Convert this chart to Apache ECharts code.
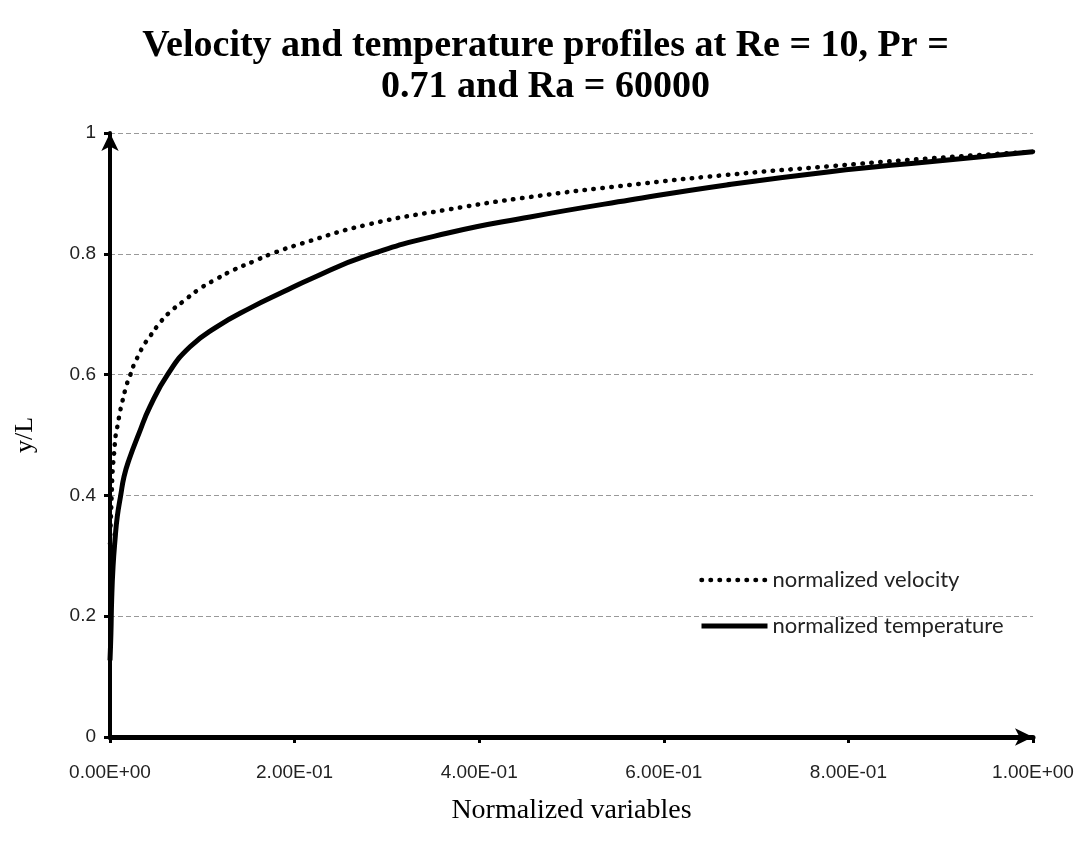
<!DOCTYPE html>
<html>
<head>
<meta charset="utf-8">
<script src="https://cdn.jsdelivr.net/npm/echarts@6/dist/echarts.min.js"></script>
<style>html,body{margin:0;padding:0;background:#fff}#c{width:1091px;height:850px}</style>
</head>
<body>
<div id="c"></div>
<script>
const titleText = 'Velocity and temperature profiles at Re = 10, Pr =\n0.71 and Ra = 60000';
const xAxisName = 'Normalized variables';
const yAxisName = 'y/L';
const seriesNames = ['normalized velocity', 'normalized temperature'];
const xTickLabels = ['0.00E+00', '2.00E-01', '4.00E-01', '6.00E-01', '8.00E-01', '1.00E+00'];

const velocityX = [0, 0.001, 0.0018, 0.0025, 0.0033, 0.0043, 0.0051, 0.0062, 0.0085, 0.0104, 0.0127, 0.0182, 0.0219, 0.0258, 0.0309, 0.0363, 0.0436, 0.0511, 0.0638, 0.08, 0.097, 0.115, 0.135, 0.155, 0.175, 0.2077, 0.278, 0.365, 0.455, 0.563, 0.664, 0.78, 0.888, 1.0];
const velocityY = [0.32, 0.365, 0.40, 0.43, 0.45, 0.467, 0.483, 0.50, 0.518, 0.535, 0.551, 0.584, 0.599, 0.616, 0.632, 0.648, 0.664, 0.680, 0.702, 0.722, 0.742, 0.758, 0.774, 0.787, 0.80, 0.817, 0.848, 0.873, 0.894, 0.914, 0.930, 0.945, 0.958, 0.969];

const temperatureX = [0, 0.001, 0.0018, 0.0033, 0.0054, 0.0079, 0.0116, 0.0152, 0.0206, 0.0315, 0.0433, 0.0632, 0.0867, 0.1156, 0.1517, 0.1878, 0.2167, 0.278, 0.365, 0.455, 0.563, 0.668, 0.78, 0.888, 1.0];
const temperatureY = [0.127, 0.172, 0.227, 0.282, 0.326, 0.365, 0.40, 0.431, 0.459, 0.503, 0.547, 0.602, 0.646, 0.679, 0.710, 0.737, 0.758, 0.797, 0.834, 0.861, 0.889, 0.914, 0.936, 0.9525, 0.969];

const zip = (xs, ys) => xs.map((x, i) => [x, ys[i]]);

const dottedStyle = {color: '#000', width: 4.5, type: [0.5, 8.5], cap: 'round'};
const solidStyle = {color: '#000', width: 5};

const chart = echarts.init(document.getElementById('c'), null, {renderer: 'canvas'});
chart.setOption({
  animation: false,
  backgroundColor: '#fff',
  title: {
    text: titleText,
    left: 'center',
    top: 21,
    textStyle: {fontFamily: 'Liberation Serif', fontWeight: 'bold', fontSize: 38, lineHeight: 41, color: '#000'}
  },
  grid: {left: 110, right: 58, top: 133, bottom: 113, containLabel: false},
  legend: {
    orient: 'vertical',
    left: 694,
    top: 564,
    itemGap: 24,
    itemWidth: 66,
    itemHeight: 14,
    itemStyle: {color: 'transparent', borderWidth: 0, opacity: 0},
    textStyle: {fontFamily: 'Lato', fontSize: 22, color: '#222'},
    data: [
      {name: seriesNames[0], lineStyle: {width: 4.5, type: [0.5, 8.5], cap: 'round', color: '#000'}},
      {name: seriesNames[1], lineStyle: {width: 5, color: '#000'}}
    ]
  },
  xAxis: {
    type: 'value',
    min: 0, max: 1, interval: 0.2,
    name: xAxisName,
    nameLocation: 'middle',
    nameGap: 60,
    nameTextStyle: {fontFamily: 'Liberation Serif', fontSize: 28, color: '#000'},
    axisLine: {show: true, onZero: false, lineStyle: {color: '#000', width: 5}, symbol: ['none', 'arrow'], symbolSize: [13, 18]},
    axisTick: {show: true, inside: false, length: 6, lineStyle: {color: '#000', width: 3}},
    axisLabel: {
      margin: 26,
      fontFamily: 'Liberation Sans Narrow, Liberation Sans',
      fontSize: 19,
      color: '#222',
      formatter: v => xTickLabels[Math.round(v / 0.2)]
    },
    splitLine: {show: false}
  },
  yAxis: {
    type: 'value',
    min: 0, max: 1, interval: 0.2,
    name: yAxisName,
    nameLocation: 'middle',
    nameGap: 72,
    nameRotate: 90,
    nameTextStyle: {fontFamily: 'Liberation Serif', fontSize: 26, color: '#000'},
    axisLine: {show: true, onZero: false, lineStyle: {color: '#000', width: 4}, symbol: ['none', 'arrow'], symbolSize: [13, 18]},
    axisTick: {show: true, inside: false, length: 6, lineStyle: {color: '#000', width: 3}},
    axisLabel: {
      margin: 14,
      fontFamily: 'Liberation Sans Narrow, Liberation Sans',
      fontSize: 19,
      color: '#222'
    },
    splitLine: {show: true, lineStyle: {color: '#999', width: 1, type: [5, 3]}}
  },
  series: [
    {
      name: seriesNames[0],
      type: 'line',
      data: zip(velocityX, velocityY),
      smooth: 0.5,
      showSymbol: false,
      symbol: 'none',
      lineStyle: dottedStyle,
      itemStyle: {color: '#000'},
      z: 3
    },
    {
      name: seriesNames[1],
      type: 'line',
      data: zip(temperatureX, temperatureY),
      smooth: 0.5,
      showSymbol: false,
      symbol: 'none',
      lineStyle: solidStyle,
      itemStyle: {color: '#000'},
      z: 3
    }
  ]
});
</script>
</body>
</html>
